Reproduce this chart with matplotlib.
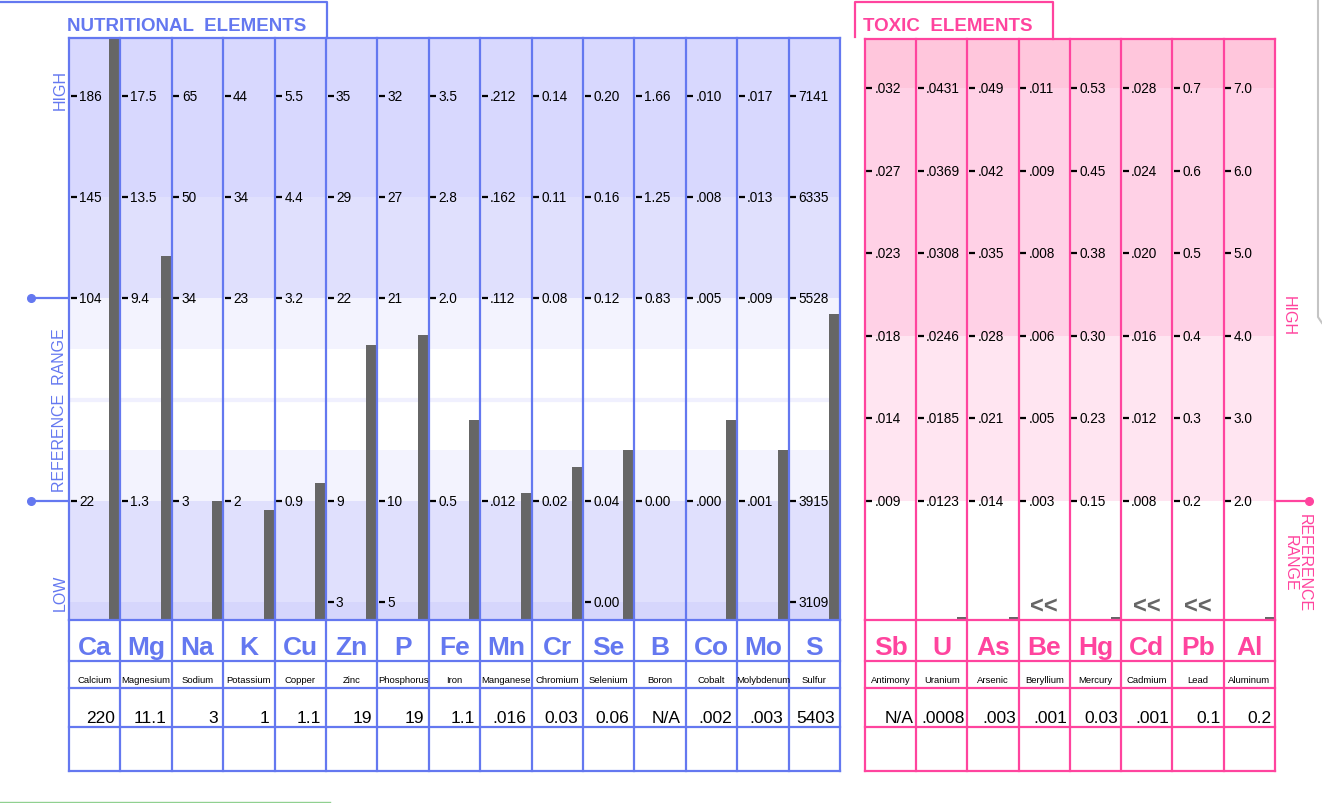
import numpy as np
import matplotlib
matplotlib.use('Agg')
import matplotlib.pyplot as plt

W, H = 1322, 804
BLUE = '#6478F0'
PINK = '#FF449E'
BAR = '#666666'

plt.rcParams['font.family'] = ['Liberation Sans', 'DejaVu Sans']

# ---------------- data ----------------
nut_symbols = ['Ca', 'Mg', 'Na', 'K', 'Cu', 'Zn', 'P', 'Fe', 'Mn', 'Cr', 'Se', 'B', 'Co', 'Mo', 'S']
nut_names = ['Calcium', 'Magnesium', 'Sodium', 'Potassium', 'Copper', 'Zinc', 'Phosphorus', 'Iron',
             'Manganese', 'Chromium', 'Selenium', 'Boron', 'Cobalt', 'Molybdenum', 'Sulfur']
nut_high = ['186', '17.5', '65', '44', '5.5', '35', '32', '3.5', '.212', '0.14', '0.20', '1.66', '.010', '.017', '7141']
nut_high2 = ['145', '13.5', '50', '34', '4.4', '29', '27', '2.8', '.162', '0.11', '0.16', '1.25', '.008', '.013', '6335']
nut_ref_hi = ['104', '9.4', '34', '23', '3.2', '22', '21', '2.0', '.112', '0.08', '0.12', '0.83', '.005', '.009', '5528']
nut_ref_lo = ['22', '1.3', '3', '2', '0.9', '9', '10', '0.5', '.012', '0.02', '0.04', '0.00', '.000', '.001', '3915']
nut_low = ['', '', '', '', '', '3', '5', '', '', '', '0.00', '', '', '', '3109']
nut_results = [220, 11.1, 3, 1, 1.1, 19, 19, 1.1, 0.016, 0.03, 0.06, None, 0.002, 0.003, 5403]
nut_result_labels = ['220', '11.1', '3', '1', '1.1', '19', '19', '1.1', '.016', '0.03', '0.06', 'N/A', '.002', '.003', '5403']

tox_symbols = ['Sb', 'U', 'As', 'Be', 'Hg', 'Cd', 'Pb', 'Al']
tox_names = ['Antimony', 'Uranium', 'Arsenic', 'Beryllium', 'Mercury', 'Cadmium', 'Lead', 'Aluminum']
tox_l5 = ['.032', '.0431', '.049', '.011', '0.53', '.028', '0.7', '7.0']
tox_l4 = ['.027', '.0369', '.042', '.009', '0.45', '.024', '0.6', '6.0']
tox_l3 = ['.023', '.0308', '.035', '.008', '0.38', '.020', '0.5', '5.0']
tox_l2 = ['.018', '.0246', '.028', '.006', '0.30', '.016', '0.4', '4.0']
tox_l1 = ['.014', '.0185', '.021', '.005', '0.23', '.012', '0.3', '3.0']
tox_l0 = ['.009', '.0123', '.014', '.003', '0.15', '.008', '0.2', '2.0']
tox_results = [None, 0.0008, 0.003, 0.001, 0.03, 0.001, 0.1, 0.2]
tox_result_labels = ['N/A', '.0008', '.003', '.001', '0.03', '.001', '0.1', '0.2']
tox_below = [False, False, False, True, False, True, True, False]

# ---------------- layout (pixels) ----------------
NX0, NX1 = 69, 840          # nutritional panel
TX0, TX1 = 865, 1275        # toxic panel
N_TOP, T_TOP, CH_BOT = 39, 40, 621
ROW_EDGES = [621, 662, 689, 728, 772]
N_L0_PX, N_PX_PER = 603, 101.2
T_L0_PX, T_PX_PER = 502, 82.6

fig = plt.figure(figsize=(W / 100, H / 100), dpi=100)


def rect(x0, y0, x1, y1):
    return [x0 / W, 1 - y1 / H, (x1 - x0) / W, (y1 - y0) / H]


def nut_level(v, i):
    rlo, rhi = float(nut_ref_lo[i]), float(nut_ref_hi[i])
    vals = [rlo, (rlo + rhi) / 2, rhi, float(nut_high2[i]), float(nut_high[i])]
    lv = [1, 2, 3, 4, 5]
    if v < vals[0]:
        return 1 + (v - vals[0]) / (vals[1] - vals[0])
    if v > vals[-1]:
        return 5 + (v - vals[-1]) / (vals[-1] - vals[-2])
    return float(np.interp(v, vals, lv))


def tox_level(v, i):
    vals = [float(t[i]) for t in (tox_l0, tox_l1, tox_l2, tox_l3, tox_l4, tox_l5)]
    if v < vals[0]:
        return (v - vals[0]) / (vals[1] - vals[0])
    return float(np.interp(v, vals, range(6)))


TICK_FS = 9.8

# ---------------- nutritional chart ----------------
axn = fig.add_axes(rect(NX0, N_TOP, NX1, CH_BOT))
n_ylim = ((N_L0_PX - CH_BOT) / N_PX_PER, (N_L0_PX - N_TOP) / N_PX_PER)
nn = len(nut_symbols)
axn.set_xlim(0, nn)
axn.set_ylim(*n_ylim)
axn.set_axis_off()
bands_n = [(4, n_ylim[1], '#D8D8FE'), (3, 4, '#E0E0FD'), (2.5, 3, '#F3F3FE'), (2, 2.5, '#FFFFFF'),
           (1.5, 2, '#FFFFFF'), (1, 1.5, '#F3F3FE'), (0, 1, '#E0E0FD'), (n_ylim[0], 0, '#D6D6FC')]
for lo, hi, c in bands_n:
    axn.axhspan(lo, hi, color=c, lw=0, zorder=0)
axn.axhline(2, color='#F0F0FE', lw=3, zorder=0.5)

col_px_n = (NX1 - NX0) / nn
bw = 10 / col_px_n
for i, v in enumerate(nut_results):
    if v is None:
        continue
    lvl = nut_level(v, i)
    axn.bar(i + 1 - (1 / col_px_n) - bw / 2, lvl - n_ylim[0], bottom=n_ylim[0], width=bw,
            color=BAR, lw=0, zorder=2)

levels_n = [(5, nut_high), (4, nut_high2), (3, nut_ref_hi), (1, nut_ref_lo), (0, nut_low)]
for i in range(nn):
    for lv, arr in levels_n:
        if arr[i] == '':
            continue
        axn.plot([i + 1.5 / col_px_n, i + 7.5 / col_px_n], [lv, lv], color='black', lw=1.6,
                 solid_capstyle='butt', zorder=3)
        axn.text(i + 10 / col_px_n, lv, arr[i], fontsize=TICK_FS, va='center', ha='left', zorder=3)

for i in range(nn + 1):
    axn.axvline(i, color=BLUE, lw=1.6, zorder=4, clip_on=False)
axn.axhline(n_ylim[1], color=BLUE, lw=1.6, zorder=4, clip_on=False)

# reference lines (left)
for lv in (3, 1):
    axn.plot([-34 / col_px_n, 0], [lv, lv], color=BLUE, lw=1.6, clip_on=False, zorder=5)
    axn.plot([-38 / col_px_n], [lv], marker='o', ms=5.5, color=BLUE, clip_on=False, zorder=5)

# nutritional table
axnt = fig.add_axes(rect(NX0, ROW_EDGES[0], NX1, ROW_EDGES[-1]))
axnt.set_xlim(0, nn)
axnt.set_ylim(ROW_EDGES[-1], ROW_EDGES[0])
axnt.set_axis_off()
for e in ROW_EDGES:
    axnt.axhline(e, color=BLUE, lw=1.6, clip_on=False)
for i in range(nn + 1):
    axnt.axvline(i, color=BLUE, lw=1.6, clip_on=False)
for i in range(nn):
    axnt.text(i + 0.5, 655, nut_symbols[i], ha='center', va='baseline', fontsize=19,
              fontweight='bold', color=BLUE)
    axnt.text(i + 0.5, 683.5, nut_names[i], ha='center', va='baseline', fontsize=6.8)
    axnt.text(i + 1 - 5 / col_px_n, 723, nut_result_labels[i], ha='right', va='baseline', fontsize=12.5)

# ---------------- toxic chart ----------------
axt = fig.add_axes(rect(TX0, T_TOP, TX1, CH_BOT))
t_ylim = ((T_L0_PX - CH_BOT) / T_PX_PER, (T_L0_PX - T_TOP) / T_PX_PER)
nt = len(tox_symbols)
axt.set_xlim(0, nt)
axt.set_ylim(*t_ylim)
axt.set_axis_off()
bands_t = [(5, t_ylim[1], '#FFC6DC'), (2, 5, '#FFD1E6'), (0, 2, '#FFE5F1'), (t_ylim[0], 0, '#FFFFFF')]
for lo, hi, c in bands_t:
    axt.axhspan(lo, hi, color=c, lw=0, zorder=0)

col_px_t = (TX1 - TX0) / nt
bwt = 10 / col_px_t
stub = 3 / T_PX_PER
for i, v in enumerate(tox_results):
    if v is None:
        continue
    if tox_below[i]:
        axt.text(i + 0.5, (T_L0_PX - 607) / T_PX_PER, '<<', ha='center', va='center', fontsize=17,
                 fontweight='bold', color=BAR, zorder=3)
        continue
    lvl = max(tox_level(v, i), t_ylim[0] + stub)
    axt.bar(i + 1 - bwt / 2, lvl - t_ylim[0], bottom=t_ylim[0], width=bwt, color=BAR, lw=0, zorder=2)

levels_t = [(5, tox_l5), (4, tox_l4), (3, tox_l3), (2, tox_l2), (1, tox_l1), (0, tox_l0)]
for i in range(nt):
    for lv, arr in levels_t:
        axt.plot([i + 1.5 / col_px_t, i + 7.5 / col_px_t], [lv, lv], color='black', lw=1.6,
                 solid_capstyle='butt', zorder=3)
        axt.text(i + 10 / col_px_t, lv, arr[i], fontsize=TICK_FS, va='center', ha='left', zorder=3)
for i in range(nt + 1):
    axt.axvline(i, color=PINK, lw=1.6, zorder=4, clip_on=False)
axt.axhline(t_ylim[1], color=PINK, lw=1.6, zorder=4, clip_on=False)

# reference line (right)
axt.plot([nt, nt + 34 / col_px_t], [0, 0], color=PINK, lw=1.6, clip_on=False, zorder=5)
axt.plot([nt + 34 / col_px_t], [0], marker='o', ms=5.5, color=PINK, clip_on=False, zorder=5)

# toxic table
axtt = fig.add_axes(rect(TX0, ROW_EDGES[0], TX1, ROW_EDGES[-1]))
axtt.set_xlim(0, nt)
axtt.set_ylim(ROW_EDGES[-1], ROW_EDGES[0])
axtt.set_axis_off()
for e in ROW_EDGES:
    axtt.axhline(e, color=PINK, lw=1.6, clip_on=False)
for i in range(nt + 1):
    axtt.axvline(i, color=PINK, lw=1.6, clip_on=False)
for i in range(nt):
    axtt.text(i + 0.5, 655, tox_symbols[i], ha='center', va='baseline', fontsize=19,
              fontweight='bold', color=PINK)
    axtt.text(i + 0.5, 683.5, tox_names[i], ha='center', va='baseline', fontsize=6.8)
    axtt.text(i + 1 - 3 / col_px_t, 723, tox_result_labels[i], ha='right', va='baseline', fontsize=12.5)

# ---------------- overlay: titles, side labels ----------------
ov = fig.add_axes([0, 0, 1, 1], zorder=10)
ov.set_xlim(0, W)
ov.set_ylim(H, 0)
ov.set_axis_off()
ov.plot([0, 327, 327], [3, 3, N_TOP], color=BLUE, lw=1.6)
ov.text(67, 31, 'NUTRITIONAL  ELEMENTS', color=BLUE, fontsize=13.5, fontweight='bold',
        ha='left', va='baseline')
ov.plot([855, 855, 1053, 1053], [38, 3, 3, T_TOP], color=PINK, lw=1.6)
ov.text(863, 31, 'TOXIC  ELEMENTS', color=PINK, fontsize=13.5, fontweight='bold',
        ha='left', va='baseline')

ov.text(60, 90, 'HIGH', rotation=90, ha='center', va='center', color=BLUE, fontsize=11.5)
ov.text(60, 410, 'REFERENCE  RANGE', rotation=90, ha='center', va='center', color=BLUE, fontsize=11.5)
ov.text(60, 593, 'LOW', rotation=90, ha='center', va='center', color=BLUE, fontsize=11.5)
ov.text(1288, 316, 'HIGH', rotation=270, ha='center', va='center', color=PINK, fontsize=11.5)
ov.text(1297, 563, 'REFERENCE\nRANGE', rotation=270, ha='center', va='center', color=PINK,
        fontsize=11.5, linespacing=0.95, multialignment='center')

ov.plot([0, 330], [803, 803], color='#90D090', lw=1)
ov.plot([1318, 1318, 1322], [0, 318, 324], color='#C4C4C4', lw=1.5)

fig.savefig('out.png', dpi=100)
